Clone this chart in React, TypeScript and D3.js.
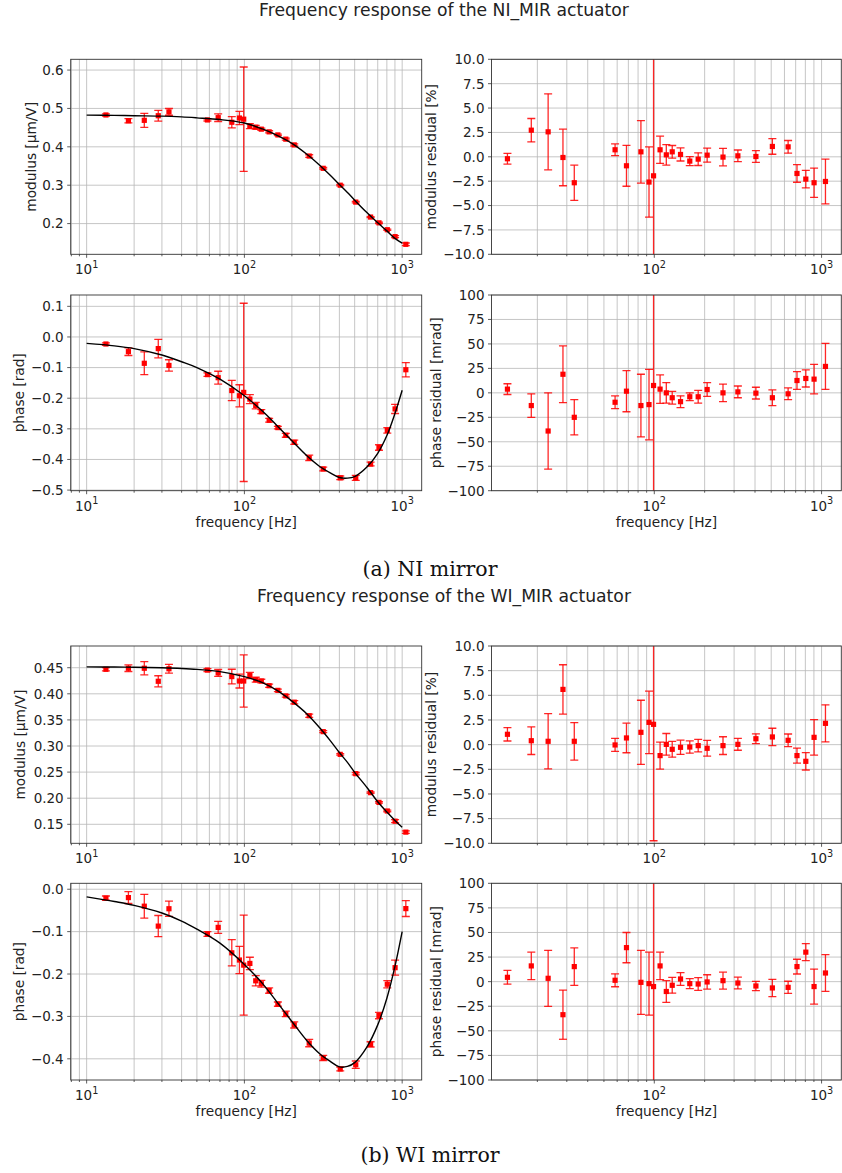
import React from 'react';
import * as d3 from 'd3';

// ---------- data ----------
const FREQ = [13.25, 18.4, 23.2, 28.45, 33.25, 58.3, 68.2, 83.2, 93, 99, 108.3, 118, 128, 143.5, 163, 183, 207, 257.5, 316, 405, 508, 631, 713, 805, 902, 1055];
const FIT_FREQ = [10, 15, 20, 30, 40, 50, 70, 100, 130, 160, 200, 250, 300, 350, 400, 450, 500, 600, 700, 800, 900, 1000];

// NI mirror
const NI_MOD = [0.483, 0.468, 0.469, 0.481, 0.491, 0.470, 0.476, 0.464, 0.475, 0.472, 0.454, 0.451, 0.446, 0.439, 0.431, 0.420, 0.405, 0.376, 0.344, 0.300, 0.256, 0.217, 0.202, 0.184, 0.166, 0.146];
const NI_MOD_ERR = [0.0027, 0.0056, 0.0183, 0.014, 0.0088, 0.0028, 0.010, 0.0148, 0.0171, 0.136, 0.0064, 0.0047, 0.0029, 0.0029, 0.002, 0.0027, 0.0029, 0.0034, 0.0021, 0.0018, 0.002, 0.0014, 0.0018, 0.0017, 0.0025, 0.0034];
const NI_MOD_FIT = [0.4825, 0.482, 0.481, 0.480, 0.478, 0.4755, 0.471, 0.462, 0.4465, 0.4305, 0.409, 0.380, 0.352, 0.326, 0.302, 0.281, 0.261, 0.228, 0.202, 0.181, 0.1615, 0.149];
const NI_MOD_RES = [-0.2, 2.73, 2.56, -0.07, -2.66, 0.72, -0.92, 0.51, -2.59, -1.95, 0.72, 0.2, 0.51, 0.24, -0.44, -0.24, 0.17, -0.03, 0.1, 0.03, 1.06, 1.02, -1.71, -2.29, -2.66, -2.53];
const NI_MOD_RES_ERR = [0.55, 1.2, 3.9, 2.9, 1.8, 0.6, 2.1, 3.2, 3.6, 28.8, 1.4, 1.05, 0.65, 0.67, 0.46, 0.65, 0.72, 0.9, 0.6, 0.6, 0.8, 0.65, 0.9, 0.9, 1.5, 2.3];
const NI_PHASE = [-0.023, -0.048, -0.086, -0.038, -0.093, -0.123, -0.133, -0.175, -0.192, -0.181, -0.203, -0.224, -0.244, -0.272, -0.296, -0.321, -0.344, -0.395, -0.431, -0.460, -0.460, -0.415, -0.361, -0.305, -0.235, -0.107];
const NI_PHASE_ERR = [0.004, 0.0125, 0.037, 0.03, 0.0185, 0.006, 0.021, 0.033, 0.036, 0.291, 0.0145, 0.0105, 0.0065, 0.006, 0.004, 0.0065, 0.007, 0.009, 0.006, 0.006, 0.008, 0.006, 0.009, 0.0087, 0.015, 0.0235];
const NI_PHASE_FIT = [-0.021, -0.029, -0.038, -0.059, -0.081, -0.100, -0.138, -0.192, -0.242, -0.288, -0.339, -0.389, -0.423, -0.444, -0.459, -0.461, -0.456, -0.424, -0.380, -0.322, -0.250, -0.174];
const NI_PHASE_RES = [3.8, -13, -39, 19, -25, -9.6, 1.7, -13, -12, 7.5, 3.8, 0, -5, -9, -4, -4, 3.4, 0, 1, -0.3, -5, -1, 12.6, 14.7, 14, 27];
const NI_PHASE_RES_ERR = [5.5, 12, 39, 29, 18, 6.5, 21, 32, 36, 291, 14.5, 10.5, 6.5, 6, 4, 6.5, 7, 9, 6, 6, 8, 6, 9, 8.7, 15, 23.5];

// WI mirror
const WI_MOD = [0.447, 0.449, 0.449, 0.424, 0.448, 0.4455, 0.440, 0.433, 0.4245, 0.4245, 0.435, 0.427, 0.4245, 0.4155, 0.4066, 0.396, 0.384, 0.358, 0.3275, 0.284, 0.247, 0.2106, 0.192, 0.1755, 0.156, 0.135];
const WI_MOD_ERR = [0.003, 0.0063, 0.0126, 0.0106, 0.0085, 0.0029, 0.0066, 0.0141, 0.0134, 0.05, 0.006, 0.0047, 0.0034, 0.003, 0.0025, 0.0025, 0.0031, 0.0032, 0.002, 0.0014, 0.0022, 0.0013, 0.0015, 0.0015, 0.0028, 0.0025];
const WI_MOD_FIT = [0.4517, 0.4513, 0.4508, 0.4498, 0.4485, 0.4468, 0.4425, 0.4328, 0.4214, 0.4069, 0.386, 0.361, 0.335, 0.3104, 0.2875, 0.2686, 0.2495, 0.2201, 0.1931, 0.1734, 0.1575, 0.1443];
const WI_MOD_RES = [1.05, 0.4, 0.34, 5.6, 0.34, -0.03, 0.68, 1.25, 2.26, 2.06, -1.11, 0.03, -0.47, -0.27, -0.24, -0.1, -0.37, -0.1, 0.03, 0.6, 0.78, 0.44, -1.11, -1.69, 0.74, 2.16];
const WI_MOD_RES_ERR = [0.68, 1.4, 2.8, 2.5, 1.9, 0.66, 1.5, 3.25, 3.16, 11.8, 1.37, 1.1, 0.8, 0.72, 0.62, 0.64, 0.8, 0.9, 0.6, 0.5, 0.88, 0.64, 0.76, 0.88, 1.8, 1.88];
const WI_PHASE = [-0.021, -0.0197, -0.040, -0.087, -0.046, -0.1055, -0.090, -0.150, -0.167, -0.179, -0.175, -0.216, -0.223, -0.239, -0.271, -0.294, -0.320, -0.363, -0.398, -0.424, -0.414, -0.366, -0.298, -0.224, -0.185, -0.0457];
const WI_PHASE_ERR = [0.005, 0.014, 0.028, 0.025, 0.018, 0.0055, 0.014, 0.031, 0.032, 0.118, 0.0146, 0.012, 0.008, 0.0064, 0.005, 0.0064, 0.0073, 0.0086, 0.006, 0.0047, 0.0088, 0.0062, 0.0075, 0.0086, 0.0178, 0.0186];
const WI_PHASE_FIT = [-0.018, -0.029, -0.038, -0.056, -0.075, -0.094, -0.127, -0.1775, -0.222, -0.265, -0.312, -0.358, -0.388, -0.406, -0.419, -0.418, -0.409, -0.371, -0.320, -0.257, -0.182, -0.100];
const WI_PHASE_RES = [4.4, 16, 3.4, -33.6, 15.3, 1.4, 34.6, -0.7, -2, -5, 16, -10, -3.7, 2.7, -2, -2.4, -0.3, 1, -1.4, -4.4, -6.4, -5.8, 15.3, 30, -5, 8.8];
const WI_PHASE_RES_ERR = [7, 14, 28.5, 25, 19, 6.6, 15.4, 32.5, 32, 118, 14, 11, 8, 6.4, 5, 6.4, 7.3, 8.6, 6, 4.7, 8.8, 6.2, 7.5, 8.6, 17.8, 18.6];

// tick values
const NI_MOD_TICKS = [0.2, 0.3, 0.4, 0.5, 0.6];
const NI_PHASE_TICKS = [-0.5, -0.4, -0.3, -0.2, -0.1, 0.0, 0.1];
const WI_MOD_TICKS = [0.15, 0.20, 0.25, 0.30, 0.35, 0.40, 0.45];
const WI_PHASE_TICKS = [-0.4, -0.3, -0.2, -0.1, 0.0];
const MOD_RES_TICKS = [-10, -7.5, -5, -2.5, 0, 2.5, 5, 7.5, 10];
const PHASE_RES_TICKS = [-100, -75, -50, -25, 0, 25, 50, 75, 100];

const TITLES = ['Frequency response of the NI_MIR actuator', 'Frequency response of the WI_MIR actuator'];
const CAPTIONS = ['(a) NI mirror', '(b) WI mirror'];

// ---------- layout ----------
const FONT = 'DejaVu Sans, Verdana, sans-serif';
const TICK_FS = 13.5;
const LABEL_FS = 13.7;
const LEFT_COL = { left: 70.7, width: 351, xDomain: [7.925, 1330] as [number, number] };
const RIGHT_COL = { left: 491.5, width: 349.8, xDomain: [10.64, 1312] as [number, number] };

const fmtMinus = (s: string) => s.replace('-', '\u2212');

type PanelProps = {
  id: string;
  col: { left: number; width: number; xDomain: [number, number] };
  top: number;
  height: number;
  yDomain: [number, number];
  yTicks: number[];
  yFmt: string;
  values: number[];
  errors: number[];
  fit?: number[];
  yLabel: string;
  yLabelX: number;
  xLabel?: boolean;
};

function Panel(p: PanelProps) {
  const { left, width, xDomain } = p.col;
  const top = p.top;
  const bottom = p.top + p.height;
  const x = d3.scaleLog().domain(xDomain).range([left, left + width]);
  const y = d3.scaleLinear().domain(p.yDomain).range([bottom, top]);
  const xt = x.ticks();
  const isMajor = (t: number) => Math.abs(Math.log10(t) - Math.round(Math.log10(t))) < 1e-9;
  const fmt = d3.format(p.yFmt);
  const line = d3
    .line<number>()
    .x((_, i) => x(FIT_FREQ[i]))
    .y((d) => y(d))
    .curve(d3.curveCatmullRom.alpha(0.5));
  const clipId = 'clip-' + p.id;
  const cap = 4;
  const ms = 5.2;
  return (
    <g>
      <defs>
        <clipPath id={clipId}>
          <rect x={left} y={top} width={width} height={p.height} />
        </clipPath>
      </defs>
      {/* grid */}
      <g stroke="#b8b8b8" strokeWidth={0.8}>
        {xt.map((t, i) => (
          <line key={'gx' + i} x1={x(t)} x2={x(t)} y1={top} y2={bottom} />
        ))}
        {p.yTicks.map((t, i) => (
          <line key={'gy' + i} x1={left} x2={left + width} y1={y(t)} y2={y(t)} />
        ))}
      </g>
      {/* data */}
      <g clipPath={`url(#${clipId})`}>
        <g stroke="#ff0000" strokeOpacity={0.85} strokeWidth={1.3}>
          {p.values.map((v, i) => {
            const cx = x(FREQ[i]);
            const y1 = y(v - p.errors[i]);
            const y2 = y(v + p.errors[i]);
            return (
              <g key={'e' + i}>
                <line x1={cx} x2={cx} y1={y1} y2={y2} />
                <line x1={cx - cap} x2={cx + cap} y1={y1} y2={y1} />
                <line x1={cx - cap} x2={cx + cap} y1={y2} y2={y2} />
              </g>
            );
          })}
        </g>
        {p.values.map((v, i) => (
          <rect key={'m' + i} x={x(FREQ[i]) - ms / 2} y={y(v) - ms / 2} width={ms} height={ms} fill="#ff0000" />
        ))}
        {p.fit && <path d={line(p.fit) || ''} fill="none" stroke="#000" strokeWidth={1.4} />}
      </g>
      {/* spines */}
      <rect x={left} y={top} width={width} height={p.height} fill="none" stroke="#333" strokeWidth={0.9} />
      {/* ticks */}
      <g stroke="#333" strokeWidth={0.8}>
        {xt.map((t, i) => (
          <line key={'tx' + i} x1={x(t)} x2={x(t)} y1={bottom} y2={bottom + (isMajor(t) ? 3.5 : 2)} />
        ))}
        {p.yTicks.map((t, i) => (
          <line key={'ty' + i} x1={left - 3.5} x2={left} y1={y(t)} y2={y(t)} />
        ))}
      </g>
      <g fontFamily={FONT} fontSize={TICK_FS} fill="#222">
        {xt.filter(isMajor).map((t, i) => (
          <text key={'lx' + i} x={x(t)} y={bottom + 20} textAnchor="middle">
            10
            <tspan fontSize={9.7} dy={-6.5}>
              {String(Math.round(Math.log10(t)))}
            </tspan>
          </text>
        ))}
        {p.yTicks.map((t, i) => (
          <text key={'ly' + i} x={left - 7} y={y(t)} dy="0.36em" textAnchor="end">
            {fmtMinus(fmt(t))}
          </text>
        ))}
      </g>
      <text
        fontFamily={FONT}
        fontSize={LABEL_FS}
        fill="#222"
        textAnchor="middle"
        transform={`translate(${p.yLabelX},${(top + bottom) / 2}) rotate(-90)`}
      >
        {p.yLabel}
      </text>
      {p.xLabel && (
        <text fontFamily={FONT} fontSize={LABEL_FS} fill="#222" textAnchor="middle" x={left + width / 2} y={bottom + 36}>
          frequency [Hz]
        </text>
      )}
    </g>
  );
}

export default function App() {
  return (
    <svg
      width={842}
      height={1173}
      viewBox="0 0 842 1173"
      style={{ position: 'absolute', left: 0, top: 0, background: '#fff' }}
    >
      <rect x={0} y={0} width={842} height={1173} fill="#fff" />
      <text x={444} y={16} textAnchor="middle" fontFamily={FONT} fontSize={17.2} fill="#222">
        {TITLES[0]}
      </text>
      <Panel id="nimod" col={LEFT_COL} top={59.3} height={195} yDomain={[0.12, 0.628]} yTicks={NI_MOD_TICKS} yFmt=".1f"
        values={NI_MOD} errors={NI_MOD_ERR} fit={NI_MOD_FIT} yLabel="modulus [μm/V]" yLabelX={35.5} />
      <Panel id="nimodres" col={RIGHT_COL} top={59.3} height={195} yDomain={[-10, 10]} yTicks={MOD_RES_TICKS} yFmt=".1f"
        values={NI_MOD_RES} errors={NI_MOD_RES_ERR} yLabel="modulus residual [%]" yLabelX={436} />
      <Panel id="niph" col={LEFT_COL} top={295} height={195.7} yDomain={[-0.502, 0.137]} yTicks={NI_PHASE_TICKS} yFmt=".1f"
        values={NI_PHASE} errors={NI_PHASE_ERR} fit={NI_PHASE_FIT} yLabel="phase [rad]" yLabelX={24.3} xLabel />
      <Panel id="niphres" col={RIGHT_COL} top={295} height={195.7} yDomain={[-100, 100]} yTicks={PHASE_RES_TICKS} yFmt="d"
        values={NI_PHASE_RES} errors={NI_PHASE_RES_ERR} yLabel="phase residual [mrad]" yLabelX={441} xLabel />
      <text x={430} y={576} textAnchor="middle" fontFamily="DejaVu Serif, serif" fontSize={20.5} fill="#111">
        {CAPTIONS[0]}
      </text>

      <text x={444} y={602} textAnchor="middle" fontFamily={FONT} fontSize={17.2} fill="#222">
        {TITLES[1]}
      </text>
      <Panel id="wimod" col={LEFT_COL} top={646} height={197.3} yDomain={[0.1136, 0.4916]} yTicks={WI_MOD_TICKS} yFmt=".2f"
        values={WI_MOD} errors={WI_MOD_ERR} fit={WI_MOD_FIT} yLabel="modulus [μm/V]" yLabelX={24.5} />
      <Panel id="wimodres" col={RIGHT_COL} top={646} height={197.3} yDomain={[-10, 10]} yTicks={MOD_RES_TICKS} yFmt=".1f"
        values={WI_MOD_RES} errors={WI_MOD_RES_ERR} yLabel="modulus residual [%]" yLabelX={436} />
      <Panel id="wiph" col={LEFT_COL} top={883.3} height={196.7} yDomain={[-0.45, 0.014]} yTicks={WI_PHASE_TICKS} yFmt=".1f"
        values={WI_PHASE} errors={WI_PHASE_ERR} fit={WI_PHASE_FIT} yLabel="phase [rad]" yLabelX={24} xLabel />
      <Panel id="wiphres" col={RIGHT_COL} top={883.3} height={196.7} yDomain={[-100, 100]} yTicks={PHASE_RES_TICKS} yFmt="d"
        values={WI_PHASE_RES} errors={WI_PHASE_RES_ERR} yLabel="phase residual [mrad]" yLabelX={441} xLabel />
      <text x={430} y={1162} textAnchor="middle" fontFamily="DejaVu Serif, serif" fontSize={20.5} fill="#111">
        {CAPTIONS[1]}
      </text>
    </svg>
  );
}
